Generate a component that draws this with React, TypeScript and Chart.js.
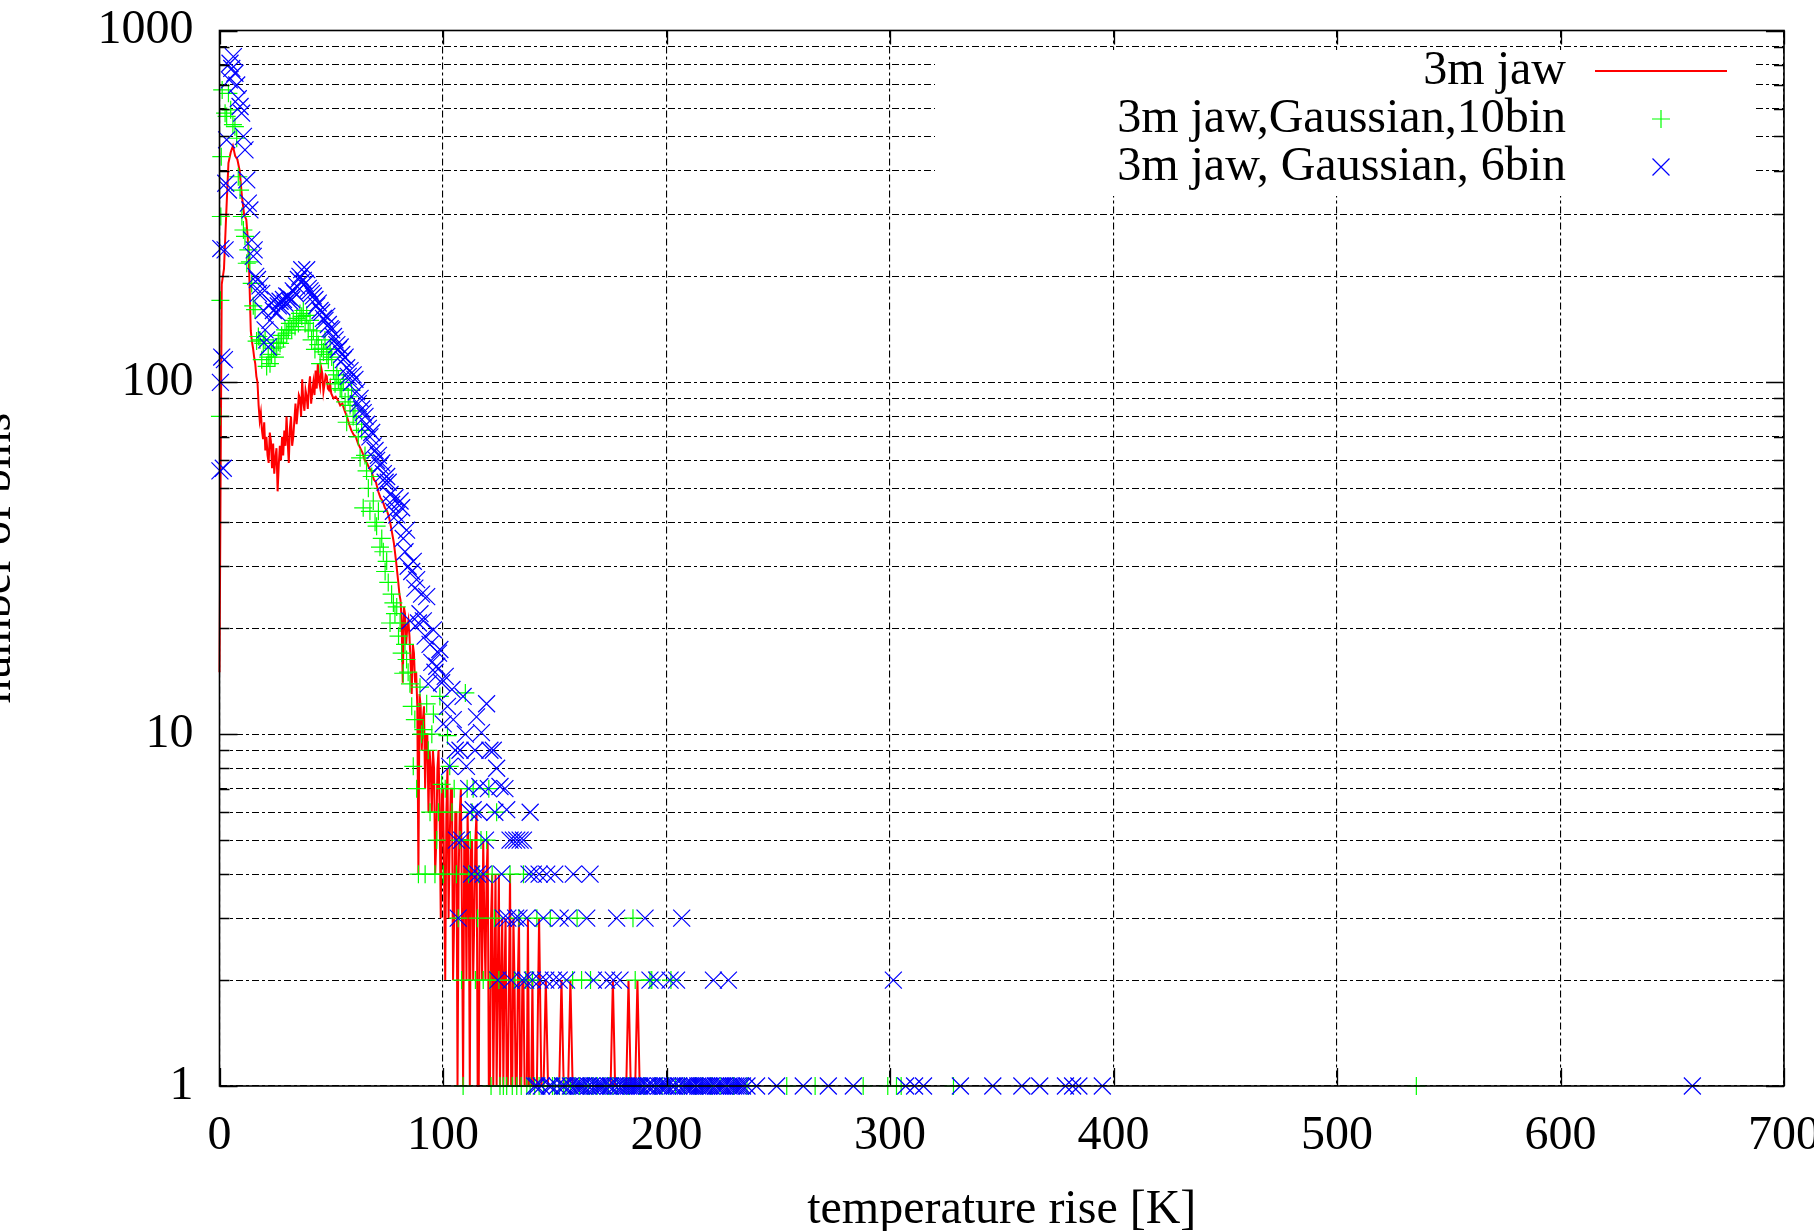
import React, { useEffect, useRef } from "react";
import { Chart, registerables } from "chart.js";

Chart.register(...registerables);

// ---------------- data ----------------
const seriesNames = ["3m jaw", "3m jaw,Gaussian,10bin", "3m jaw, Gaussian, 6bin"];

const redX = [
  0, 1, 2, 3, 4, 5, 6, 7, 8, 9,
  10, 11, 12, 13, 14, 14.5, 15, 15.5, 16, 16.5,
  17, 17.5, 18, 18.5, 19, 19.5, 20, 20.5, 21, 21.5,
  22, 22.5, 23, 23.5, 24, 24.5, 25, 25.5, 26, 26.5,
  27, 27.5, 28, 28.5, 29, 29.5, 30, 30.5, 31, 31.5,
  32, 32.5, 33, 33.5, 34, 34.5, 35, 35.5, 36, 36.5,
  37, 37.5, 38, 38.5, 39, 39.5, 40, 40.5, 41, 41.5,
  42, 42.5, 43, 43.5, 44, 44.5, 45, 45.5, 46, 46.5,
  47, 47.5, 48, 48.5, 49, 49.5, 50, 51, 52, 53,
  54, 55, 56, 57, 58, 59, 60, 61, 62, 63,
  64, 65, 66, 67, 68, 69, 70, 71, 72, 73,
  74, 75, 76, 77, 78, 79, 80, 80.5, 81, 81.5,
  82, 82.5, 83, 83.5, 84, 84.5, 85, 85.5, 86, 86.5,
  87, 87.5, 88, 88.5, 89, 89.5, 90, 90.5, 91, 91.5,
  92, 92.5, 93, 93.5, 94, 94.5, 95, 95.5, 96, 96.5,
  97, 97.5, 98, 98.5, 99, 99.5, 100, 100.5, 101, 101.5,
  102, 102.5, 103, 103.5, 104, 104.5, 105, 105.5, 106, 106.5,
  107, 107.5, 108, 108.5, 109, 109.5, 110, 110.5, 111, 111.5,
  112, 112.5, 113, 113.5, 114, 114.5, 115, 115.5, 116, 116.5,
  117, 117.5, 118, 118.5, 119, 119.5, 120, 120.5, 121, 121.5,
  122, 122.5, 123, 123.5, 124, 124.5, 125, 125.5, 126, 126.5,
  127, 127.5, 128, 128.5, 129, 129.5, 130, 130.5, 131, 131.5,
  132, 132.5, 133, 133.5, 134, 134.5, 135, 135.5, 136, 136.5,
  137, 137.5, 138, 138.5, 139, 139.5, 140, 140.5, 141, 142,
  143, 144, 145, 146, 147, 152, 153, 154, 156, 157,
  158, 175, 176, 177, 182, 183, 184, 186, 187, 188,
];
const redY = [
  15, 190, 210, 300, 420, 450, 470, 440, 430, 400,
  340, 300, 290, 240, 140, 131, 125, 118, 113, 104,
  100, 86, 78, 82, 73, 69, 77, 64, 70, 62,
  59, 72, 68, 57, 67, 55, 61, 65, 49, 58,
  66, 60, 70, 62, 73, 66, 80, 68, 59, 74,
  80, 66, 70, 78, 87, 76, 83, 92, 90, 80,
  102, 88, 83, 95, 91, 84, 97, 104, 87, 94,
  100, 92, 108, 96, 113, 101, 97, 110, 106, 94,
  99, 105, 104, 96, 95, 99, 93, 90, 91, 89,
  86, 87, 83, 80, 76, 73, 71, 70, 67, 65,
  63, 60, 59, 57, 56, 53, 52, 49, 47, 46,
  44, 43, 41, 38, 35, 31, 27, 25, 24, 21,
  14, 23, 22, 18, 20, 21, 19, 16, 13, 18,
  17, 14, 15, 12, 4, 13, 12, 9, 11, 12,
  7, 10, 10, 6, 9, 8, 6, 9, 8, 4,
  5, 8, 9, 6, 3, 7, 7, 4, 2, 6,
  8, 3, 5, 7, 7, 2, 3, 6, 6, 1,
  4, 6, 7, 3, 1, 5, 5, 2, 6, 4,
  1, 5, 5, 2, 3, 5, 6, 1, 1, 4,
  4, 2, 5, 3, 2, 4, 5, 1, 1, 3,
  4, 1, 2, 4, 1, 2, 4, 1, 2, 3,
  1, 2, 3, 1, 1, 2, 4, 1, 1, 3,
  2, 1, 1, 2, 3, 1, 1, 2, 2, 1,
  1, 1, 3, 1, 1, 1, 2, 1, 1, 1,
  3, 1, 1, 2, 1, 1, 2, 1, 1, 2,
  1, 1, 2, 1, 1, 2, 1, 1, 2, 1,
];

const greenX = [
  0.2, 0.4, 0.6, 0.8, 1.2, 2.5, 3.2, 4.0, 5.0, 6.0, 6.9, 7.7, 8.4, 9.2, 10.0, 10.7, 11.4, 12.2, 12.9, 13.6,
  14.4, 15.1, 15.9, 16.6, 17.4, 18.1, 18.9, 19.6, 20.4, 21.1, 21.8, 22.6, 23.3, 24.1, 24.8, 25.6, 26.3, 27.1, 27.8, 28.6,
  29.3, 30.1, 30.8, 31.5, 32.3, 33.0, 33.8, 34.5, 35.3, 36.0, 36.8, 37.5, 38.3, 39.0, 39.7, 40.5, 41.2, 42.0, 42.7, 43.5,
  44.2, 45.0, 45.7, 46.5, 47.2, 48.0, 48.7, 49.5, 50.2, 51.0, 51.7, 52.5, 53.2, 54.0, 54.7, 55.4, 56.2, 56.9, 57.6, 58.4,
  59.1, 59.8, 60.6, 61.3, 62.1, 62.9, 63.6, 64.3, 65.1, 65.8, 66.6, 67.3, 68.1, 68.8, 69.6, 70.3, 71.1, 71.8, 72.6, 73.3,
  74.1, 74.8, 75.5, 76.3, 77.0, 77.8, 78.5, 79.3, 80.1, 80.8, 81.5, 82.2, 83.0, 83.7, 84.4, 85.2, 86.0, 86.7, 87.4, 88.2,
  89.0, 89.7, 90.4, 91.2, 92.0, 92.7, 93.4, 94.2, 95.0, 95.7, 96.4, 97.2, 98.0, 98.6, 99.4, 100.1, 101.0, 102.0, 103.0, 104.0,
  105.0, 106.0, 106.8, 107.6, 108.3, 109.0, 110.0, 110.8, 111.5, 112.2, 113.0, 113.5, 114.5, 115.5, 116.0, 117.0, 118.0, 119.5, 120.5, 121.0,
  121.5, 122.0, 123.0, 124.0, 125.0, 125.5, 127.0, 128.5, 130.0, 131.0, 132.0, 133.0, 134.0, 135.0, 136.0, 137.0, 137.5, 139.0, 140.0, 141.0,
  142.0, 143.0, 145.0, 148.0, 149.0, 150.0, 152.0, 154.0, 155.0, 157.0, 158.0, 159.0, 160.0, 161.0, 162.0, 163.0, 165.0, 166.0, 167.0, 169.0,
  172.0, 174.0, 176.0, 178.0, 181.0, 183.0, 185.0, 186.0, 188.0, 190.0, 192.6, 193.4, 195.0, 198.0, 201.0, 202.0, 204.0, 208.0, 213.0, 216.0,
  220.0, 224.0, 230.0, 236.0, 253.8, 266.5, 288.0, 299.0, 302.9, 305.0, 328.4, 535.5,
];
const greenY = [
  80, 171, 296, 438, 678, 582, 570, 663, 595, 540, 533, 494, 384, 352, 296, 271, 260, 218, 238, 220,
  191, 165, 161, 131, 135, 132, 116, 129, 132, 111, 118, 113, 120, 125, 118, 126, 130, 129, 136, 133,
  141, 138, 141, 147, 141, 150, 144, 152, 147, 157, 154, 160, 147, 155, 141, 150, 132, 140, 124, 135,
  128, 113, 125, 122, 132, 120, 116, 124, 118, 108, 99, 105, 102, 96, 95, 100, 88, 77, 91, 86,
  95, 80, 83, 76, 70, 61, 73, 44, 62, 56, 50, 43, 54, 46, 40, 39, 43, 34, 36, 33,
  29, 31, 27, 20.7, 25, 23.6, 22, 23, 19, 20.7, 17, 14.9, 18, 16.3, 15, 13.9, 12, 8.1, 11, 7,
  4, 13.6, 10, 10.3, 4, 12.2, 9, 6, 10, 11.4, 4, 5, 6, 12.8, 7.2, 4, 7, 9.9, 8.1, 6,
  7, 4, 3, 5, 2, 1, 13.1, 7, 4, 5, 6, 7, 2, 3, 4, 5, 2, 5, 7, 2,
  1, 4, 3, 6, 2, 1, 1, 1, 4, 1, 2, 1, 3, 1, 4, 2, 1, 1, 2, 1,
  3, 1, 1, 3, 1, 1, 1, 1, 1, 1, 2, 1, 3, 1, 2, 1, 1, 2, 1, 1,
  1, 1, 1, 1, 1, 1, 3, 2, 1, 1, 2, 2, 1, 1, 1, 2, 1, 1, 1, 1,
  1, 1, 1, 1, 1, 1, 1, 1, 1, 1, 1, 1,
];

const blueX = [
  0.2, 0.4, 0.6, 1.0, 1.7, 2.2, 2.5, 2.8, 3.2, 4.0, 4.4, 4.7, 5.5, 6.2, 6.9, 7.7, 8.4, 9.2, 9.9, 10.7,
  11.4, 12.2, 12.9, 13.6, 14.4, 15.1, 15.5, 16.2, 17.0, 17.4, 18.1, 18.9, 19.6, 20.4, 21.1, 21.8, 22.6, 23.3, 24.1, 24.8,
  25.6, 26.3, 27.1, 27.8, 28.6, 29.3, 30.1, 30.8, 31.5, 32.3, 33.0, 33.8, 34.5, 35.3, 36.0, 36.8, 37.5, 38.3, 39.0, 39.7,
  40.5, 41.2, 42.0, 42.7, 43.5, 44.2, 45.0, 45.7, 46.5, 47.2, 48.0, 48.7, 49.5, 50.2, 51.0, 51.7, 52.5, 53.2, 54.0, 54.7,
  55.4, 56.2, 56.9, 57.6, 58.4, 59.1, 59.8, 60.6, 61.3, 62.1, 62.9, 63.6, 64.3, 65.1, 65.8, 66.6, 67.3, 68.1, 68.8, 69.6,
  70.3, 71.1, 71.8, 72.6, 73.3, 74.1, 74.8, 75.5, 76.3, 77.0, 77.8, 78.5, 79.3, 80.1, 80.8, 81.5, 82.2, 83.0, 83.7, 84.4,
  85.2, 86.0, 86.7, 87.4, 88.2, 89.0, 89.7, 90.4, 91.2, 92.0, 92.7, 93.4, 94.2, 95.0, 95.7, 96.4, 97.2, 98.0, 98.6, 99.4,
  100.1, 101.0, 102.0, 103.0, 104.0, 104.6, 105.5, 106.0, 106.8, 107.6, 108.3, 109.0, 110.0, 110.5, 111.5, 112.0, 112.8, 113.5, 114.3, 115.0,
  115.5, 116.0, 116.5, 117.2, 118.0, 119.0, 119.5, 120.3, 121.0, 122.5, 123.2, 124.0, 124.5, 125.5, 126.2, 127.0, 127.7, 128.5, 129.0, 130.0,
  130.5, 131.5, 132.5, 133.0, 134.0, 134.5, 135.5, 136.0, 137.0, 137.5, 138.5, 139.0, 140.0, 140.4, 141.0, 142.0, 143.0, 143.4, 144.0, 144.9,
  146.0, 146.4, 147.5, 148.5, 149.4, 150.0, 151.0, 152.0, 152.4, 153.5, 154.5, 155.3, 156.0, 157.0, 158.3, 159.0, 160.0, 161.0, 162.0, 163.0,
  164.3, 165.0, 165.8, 166.5, 167.3, 168.0, 169.0, 170.0, 171.0, 172.0, 173.2, 174.0, 175.0, 176.2, 177.0, 177.7, 178.5, 179.2, 180.0, 181.0,
  182.0, 183.0, 184.0, 185.0, 186.0, 187.0, 188.0, 189.0, 190.4, 191.0, 192.0, 192.6, 193.5, 194.5, 195.6, 196.5, 197.5, 198.5, 199.5, 200.5,
  201.6, 202.5, 203.5, 204.5, 205.5, 206.8, 207.5, 208.5, 209.5, 210.5, 211.5, 212.5, 214.0, 215.0, 216.0, 217.0, 218.0, 219.0, 220.0, 221.0,
  222.0, 223.0, 224.0, 225.0, 226.0, 227.7, 228.0, 229.0, 230.0, 231.0, 232.0, 233.0, 234.0, 236.0, 240.3, 249.3, 261.2, 272.4, 283.6, 301.5,
  307.0, 311.0, 315.0, 331.5, 346.0, 359.0, 367.0, 378.5, 381.7, 384.5, 395.0, 659.0,
];
const blueY = [
  56, 100, 240, 118, 57, 116, 238, 368, 489, 352, 724, 807, 780, 843, 756, 700, 640, 608, 582, 500,
  458, 376, 323, 309, 254, 228, 238, 200, 196, 179, 188, 179, 160, 141, 132, 126, 150, 168, 160, 172,
  158, 165, 170, 164, 172, 168, 176, 175, 170, 172, 182, 179, 188, 196, 200, 209, 195, 191, 209, 185,
  182, 179, 176, 172, 165, 168, 160, 158, 152, 150, 154, 146, 142, 141, 135, 132, 128, 124, 126, 120,
  116, 118, 110, 104, 108, 100, 105, 102, 94, 87, 90, 84, 82, 80, 76, 74, 70, 72, 66, 64,
  60, 62, 58, 59, 55, 52, 54, 52, 48, 45, 43, 47, 42, 40, 46, 44, 36, 33, 38, 30,
  21, 29, 31, 26, 27.5, 20.7, 22, 25, 21, 19, 24.6, 13.9, 18, 16, 19.8, 15, 15.6, 17, 17.4, 14,
  10.7, 14.6, 12, 8.1, 13.4, 11, 9, 5, 3, 9, 5, 12.8, 10, 8.1, 7, 6, 4, 6.1, 9, 11.2,
  4, 6, 7.1, 10.1, 4, 5, 12.2, 7, 9, 9, 6, 8, 2, 7.1, 4, 3, 7, 6.1, 3, 5,
  2, 5, 3, 5, 3, 5, 2, 5, 2, 3, 4, 6, 2, 4, 1, 1, 4, 2, 1, 3,
  2, 4, 1, 1, 2, 4, 1, 2, 3, 1, 1, 2, 3, 1, 4, 1, 1, 1, 1, 1,
  3, 1, 4, 1, 2, 1, 1, 1, 1, 1, 2, 1, 1, 2, 1, 3, 1, 2, 1, 1,
  1, 1, 1, 1, 1, 1, 1, 1, 3, 1, 1, 2, 1, 1, 2, 1, 1, 1, 1, 1,
  2, 1, 1, 2, 1, 3, 1, 1, 1, 1, 1, 1, 1, 1, 1, 1, 1, 1, 1, 2,
  1, 1, 1, 1, 1, 2, 1, 1, 1, 1, 1, 1, 1, 1, 1, 1, 1, 1, 1, 2,
  1, 1, 1, 1, 1, 1, 1, 1, 1, 1, 1, 1,
];

const xTicks = [0, 100, 200, 300, 400, 500, 600, 700];
const yTicks = [
  1, 2, 3, 4, 5, 6, 7, 8, 9,
  10, 20, 30, 40, 50, 60, 70, 80, 90,
  100, 200, 300, 400, 500, 600, 700, 800, 900,
  1000,
];
const yLabelled = [1, 10, 100, 1000];

// ---------------- layout constants ----------------
const CANVAS_W = 1870;
const CANVAS_H = 1231;
const SHIFT = 34; // canvas starts this many px left of the page
const FONT = "'Liberation Serif', 'Times New Roman', serif";
const GRID_DASH = [7, 3, 3, 3];

const toPts = (xs: number[], ys: number[]) => xs.map((x, i) => ({ x, y: ys[i] }));

const frameAndLegend = {
  id: "frameAndLegend",
  beforeDatasetsDraw(chart: any) {
    const ctx = chart.ctx;
    ctx.save();
    ctx.fillStyle = "#ffffff";
    ctx.fillRect(935 + SHIFT, 50, 820, 146);
    ctx.restore();
  },
  afterDatasetsDraw(chart: any) {
    const ctx = chart.ctx;
    const { left, right, top, bottom } = chart.chartArea;
    const xs = chart.scales.x;
    const ys = chart.scales.y;
    ctx.save();
    ctx.strokeStyle = "#000";
    ctx.lineWidth = 1.6;
    ctx.setLineDash([]);
    ctx.strokeRect(left, top, right - left, bottom - top);
    ctx.lineWidth = 1.3;
    ctx.beginPath();
    yTicks.forEach((v) => {
      const py = Math.round(ys.getPixelForValue(v)) + 0.5;
      const len = yLabelled.includes(v) ? 18 : 10;
      ctx.moveTo(left, py);
      ctx.lineTo(left + len, py);
      ctx.moveTo(right, py);
      ctx.lineTo(right - len, py);
    });
    xTicks.forEach((v) => {
      const px = Math.round(xs.getPixelForValue(v)) + 0.5;
      ctx.moveTo(px, bottom);
      ctx.lineTo(px, bottom - 18);
      ctx.moveTo(px, top);
      ctx.lineTo(px, top + 14);
    });
    ctx.stroke();

    // key
    const ds = chart.data.datasets;
    const textRight = 1566 + SHIFT;
    const rows = [71, 119, 167];
    ctx.font = `48px ${FONT}`;
    ctx.fillStyle = "#000";
    ctx.textAlign = "right";
    ctx.textBaseline = "middle";
    seriesNames.forEach((name, i) => ctx.fillText(name, textRight, rows[i]));
    const sx = 1661 + SHIFT;
    ctx.lineWidth = 2;
    ctx.strokeStyle = ds[2].borderColor;
    ctx.beginPath();
    ctx.moveTo(1595 + SHIFT, rows[0]);
    ctx.lineTo(1727 + SHIFT, rows[0]);
    ctx.stroke();
    ctx.lineWidth = 1.2;
    ctx.strokeStyle = ds[1].pointBorderColor;
    ctx.beginPath();
    const r1 = ds[1].pointRadius;
    ctx.moveTo(sx - r1, rows[1]);
    ctx.lineTo(sx + r1, rows[1]);
    ctx.moveTo(sx, rows[1] - r1);
    ctx.lineTo(sx, rows[1] + r1);
    ctx.stroke();
    ctx.strokeStyle = ds[0].pointBorderColor;
    const r2 = ds[0].pointRadius * Math.SQRT1_2;
    ctx.beginPath();
    ctx.moveTo(sx - r2, rows[2] - r2);
    ctx.lineTo(sx + r2, rows[2] + r2);
    ctx.moveTo(sx - r2, rows[2] + r2);
    ctx.lineTo(sx + r2, rows[2] - r2);
    ctx.stroke();
    ctx.restore();
  },
};

export default function App() {
  const ref = useRef<HTMLCanvasElement | null>(null);

  useEffect(() => {
    if (!ref.current) return;
    const tickFont = { family: FONT, size: 48, lineHeight: 1.2 };
    const chart = new Chart(ref.current, {
      type: "scatter",
      data: {
        datasets: [
          {
            label: seriesNames[2],
            data: toPts(blueX, blueY),
            showLine: false,
            pointStyle: "crossRot",
            pointRadius: 12,
            pointBorderWidth: 1.2,
            pointBorderColor: "#0000ff",
            pointBackgroundColor: "rgba(0,0,0,0)",
            borderColor: "#0000ff",
            order: 1,
            clip: false,
          } as any,
          {
            label: seriesNames[1],
            data: toPts(greenX, greenY),
            showLine: false,
            pointStyle: "cross",
            pointRadius: 9,
            pointBorderWidth: 1.2,
            pointBorderColor: "#00ff00",
            pointBackgroundColor: "rgba(0,0,0,0)",
            borderColor: "#00ff00",
            order: 2,
            clip: false,
          } as any,
          {
            label: seriesNames[0],
            data: toPts(redX, redY),
            showLine: true,
            pointRadius: 0,
            borderColor: "#ff0000",
            borderWidth: 2,
            tension: 0,
            order: 3,
            clip: false,
          } as any,
        ],
      },
      options: {
        animation: false,
        responsive: false,
        maintainAspectRatio: false,
        events: [],
        layout: { padding: { top: 30.5, right: 52, bottom: 0, left: 0 } },
        plugins: {
          legend: { display: false },
          tooltip: { enabled: false },
        },
        scales: {
          x: {
            type: "linear",
            min: 0,
            max: 700,
            afterBuildTicks: (s: any) => {
              s.ticks = xTicks.map((v) => ({ value: v }));
            },
            afterFit: (s: any) => {
              s.height = 145;
              s.paddingLeft = 0;
              s.paddingRight = 0;
            },
            ticks: {
              font: tickFont,
              color: "#000",
              padding: 22,
              maxRotation: 0,
              autoSkip: false,
            },
            grid: {
              color: "#000",
              lineWidth: 1.1,
              drawTicks: false,
            },
            border: { display: false, dash: GRID_DASH },
            title: {
              display: true,
              text: "temperature rise [K]",
              color: "#000",
              font: { family: FONT, size: 48, lineHeight: 1 },
              padding: { top: 0, bottom: -3 },
            },
          },
          y: {
            type: "logarithmic",
            min: 1,
            max: 1000,
            afterBuildTicks: (s: any) => {
              s.ticks = yTicks.map((v) => ({ value: v, major: yLabelled.includes(v) }));
            },
            afterFit: (s: any) => {
              s.width = 219.5 + SHIFT;
              s.paddingTop = 0;
              s.paddingBottom = 0;
            },
            ticks: {
              font: tickFont,
              color: "#000",
              padding: 26,
              autoSkip: false,
              callback: (v: any) => (yLabelled.includes(Number(v)) ? String(v) : ""),
            },
            grid: {
              color: "#000",
              lineWidth: 1.1,
              drawTicks: false,
            },
            border: { display: false, dash: GRID_DASH },
            title: {
              display: true,
              text: "number of bins",
              color: "#000",
              font: { family: FONT, size: 48, lineHeight: 1 },
              padding: { top: 7, bottom: 0 },
            },
          },
        },
      },
      plugins: [frameAndLegend],
    } as any);
    return () => chart.destroy();
  }, []);

  return (
    <div
      style={{
        position: "fixed",
        left: 0,
        top: 0,
        width: 1814,
        height: 1231,
        overflow: "hidden",
        background: "#ffffff",
      }}
    >
      <canvas
        ref={ref}
        width={CANVAS_W}
        height={CANVAS_H}
        style={{
          position: "absolute",
          left: -SHIFT,
          top: 0,
          width: CANVAS_W,
          height: CANVAS_H,
        }}
      />
    </div>
  );
}
